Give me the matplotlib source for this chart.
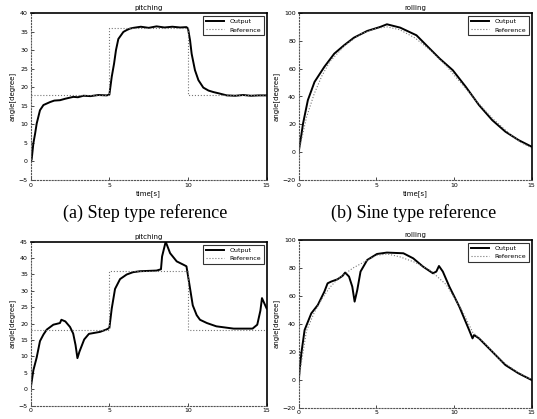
import matplotlib.pyplot as plt

# step test (pitching) - output values
step_t = [0, 0.06, 0.17, 0.28, 0.38, 0.59, 0.81, 1.02, 1.23, 1.5, 1.86, 2.2, 2.5, 2.71, 3.0,
          3.35, 3.8, 4.3, 4.83, 5.0, 5.15, 5.3, 5.42, 5.57, 5.89, 6.1, 6.31, 6.53, 7.0, 7.5,
          8.0, 8.5, 9.0, 9.5, 9.9, 10.0, 10.13, 10.23, 10.44, 10.66, 10.97, 11.3, 11.61,
          12.0, 12.46, 13.0, 13.5, 14.0, 14.5, 15.0]
step_out = [0, 0.5, 4.9, 7.5, 10.2, 13.8, 15.2, 15.6, 16.0, 16.4, 16.5, 16.9, 17.2, 17.4, 17.3,
            17.7, 17.6, 17.9, 17.8, 18.0, 22.8, 26.4, 30.0, 33.0, 34.9, 35.4, 35.8, 36.0, 36.3,
            36.0, 36.4, 36.1, 36.3, 36.1, 36.2, 35.8, 32.6, 29.0, 24.6, 21.9, 19.9, 19.1, 18.7,
            18.3, 17.8, 17.7, 17.9, 17.7, 17.8, 17.8]
step_ref_t = [0, 5, 5, 10, 10, 15]
step_ref = [18, 18, 36, 36, 18, 18]

# sine test (rolling)
sine_t = [0, 0.17, 0.28, 0.59, 1.02, 1.65, 2.29, 2.92, 3.56, 4.41, 5.25, 5.68, 6.53, 7.58,
          8.22, 9.07, 9.92, 10.76, 11.61, 12.46, 13.31, 14.15, 15.0]
sine_out = [0.3, 12.3, 20.6, 37.4, 50.5, 61.3, 70.8, 76.8, 82.3, 87.1, 90.0, 91.9, 89.5, 84.0,
            76.8, 67.3, 58.9, 46.9, 33.8, 23.0, 14.7, 8.7, 3.9]
sine_ref_t = [0, 0.5, 1, 1.5, 2, 3, 4, 5, 5.7, 6.5, 7.5, 8.5, 9.5, 10.5, 11.5, 12.5, 13.5, 14.3, 15]
sine_ref = [0, 25, 42, 55, 65, 77, 85, 89, 90, 88, 82, 73, 62, 49, 36, 24, 14, 7, 3]

# step test with disturbance
dstep_t = [0, 0.17, 0.38, 0.59, 0.81, 1.02, 1.44, 1.86, 1.95, 2.2, 2.5, 2.7, 2.85, 2.97, 3.1,
           3.4, 3.7, 4.4, 4.8, 5.0, 5.15, 5.36, 5.68, 6.1, 6.5, 6.95, 8.0, 8.28, 8.35, 8.58,
           8.86, 9.28, 9.7, 9.9, 10.1, 10.3, 10.55, 10.76, 11.2, 11.8, 12.9, 14.1, 14.4, 14.6,
           14.7, 15.0]
dstep_out = [0.3, 5.8, 9.7, 14.7, 16.7, 18.2, 19.7, 20.2, 21.2, 20.7, 19.0, 17.0, 13.5, 9.5,
             11.5, 15.2, 16.9, 17.5, 18.2, 18.7, 24.6, 30.6, 33.6, 35.0, 35.7, 36.0, 36.2, 36.6,
             40.5, 45.0, 41.5, 39.0, 38.0, 37.5, 31.6, 25.6, 22.6, 21.2, 20.2, 19.2, 18.5, 18.5,
             19.7, 24.0, 27.8, 24.6]

# sine test with disturbance
dsine_t = [0, 0.06, 0.17, 0.38, 0.81, 1.23, 1.65, 1.86, 2.08, 2.5, 2.82, 2.99, 3.24, 3.45, 3.6,
           3.77, 3.98, 4.41, 5.04, 5.68, 6.74, 7.37, 8.0, 8.64, 8.86, 9.03, 9.28, 9.7, 10.34,
           10.97, 11.19, 11.29, 11.61, 12.46, 13.31, 14.15, 15.0]
dsine_out = [-1.4, 7.0, 18.9, 35.6, 47.5, 53.5, 63.0, 69.0, 70.2, 71.9, 74.3, 76.7, 73.8, 66.6,
             55.9, 64.2, 77.4, 85.7, 90.0, 91.0, 90.5, 86.9, 81.0, 76.2, 77.4, 81.4, 77.4, 66.6,
             52.3, 35.6, 29.6, 32.0, 29.6, 20.1, 10.5, 4.6, -0.2]
dsine_ref_t = [0, 0.5, 1, 1.5, 2, 2.5, 3, 3.5, 4, 4.5, 5, 5.7, 6.5, 7.5, 8.5, 9.5, 10.5, 11.2,
               12, 13, 14, 15]
dsine_ref = [0, 35, 48, 58, 66, 72, 76, 80, 83, 86, 89, 90, 88, 84, 78, 68, 50, 34, 26, 14, 6, 0]

fig = plt.figure(figsize=(5.37, 4.19), dpi=100)

W, H = 537.0, 419.0
boxes = [(30.7, 13, 236, 167), (298.7, 13, 233, 167),
         (30.7, 241.7, 236, 164), (298.7, 240, 233, 167.7)]
panels = [
    ("pitching", step_t, step_out, step_ref_t, step_ref, (-5, 40), range(-5, 41, 5), True),
    ("rolling", sine_t, sine_out, sine_ref_t, sine_ref, (-20, 100), range(-20, 101, 20), True),
    ("pitching", dstep_t, dstep_out, step_ref_t, step_ref, (-5, 45), range(-5, 46, 5), False),
    ("rolling", dsine_t, dsine_out, dsine_ref_t, dsine_ref, (-20, 100), range(-20, 101, 20), False),
]

for (x0, y0, w, h), (title, t, out, rt, ref, ylim, yt, xlab) in zip(boxes, panels):
    ax = fig.add_axes([x0 / W, 1 - (y0 + h) / H, w / W, h / H])
    ax.plot(t, out, color="black", lw=1.4, label="Output")
    ax.plot(rt, ref, color="#777777", lw=0.8, ls=":", label="Reference")
    ax.set_xlim(0, 15)
    ax.set_ylim(*ylim)
    ax.set_xticks([0, 5, 10, 15])
    ax.set_yticks(list(yt))
    ax.tick_params(direction="in", labelsize=4.5, length=2, width=0.5, pad=2)
    ax.set_title(title, fontsize=5, pad=2)
    if xlab:
        ax.set_xlabel("time[s]", fontsize=5, labelpad=2)
    ax.set_ylabel("angle[degree]", fontsize=5, labelpad=2)
    for side in ["top", "right"]:
        ax.spines[side].set_linewidth(1.2)
    for side in ["left", "bottom"]:
        ax.spines[side].set_linestyle(":")
        ax.spines[side].set_color("#555555")
        ax.spines[side].set_linewidth(0.8)
    leg = ax.legend(loc="upper right", fontsize=4.5, frameon=True, fancybox=False,
                    borderpad=0.4, handlelength=3)
    leg.get_frame().set_edgecolor("black")
    leg.get_frame().set_linewidth(0.8)

fig.text(145 / W, 1 - 213 / H, "(a) Step type reference", family="Liberation Serif",
         fontsize=13, ha="center", va="center")
fig.text(414 / W, 1 - 213 / H, "(b) Sine type reference", family="Liberation Serif",
         fontsize=13, ha="center", va="center")

plt.savefig("out.png", dpi=100)
